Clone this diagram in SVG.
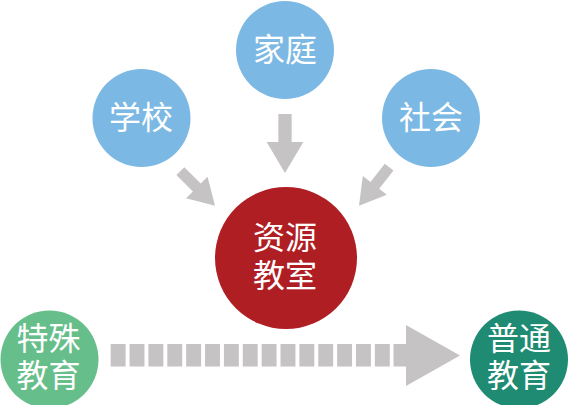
<svg xmlns="http://www.w3.org/2000/svg" width="569" height="405" viewBox="0 0 569 405">
<style>
.lbl{font-family:"Noto Sans CJK SC","Noto Sans",sans-serif;font-size:32px;fill:#ffffff;text-anchor:middle}
.blue{fill:#7bb8e3}
.arr{fill:#c5c3c4}
</style>
<defs>
<path id="ar" d="M -6.65,-59 L 6.65,-59 L 6.65,-31 L 18.35,-31 L 0,0 L -18.35,-31 L -6.65,-31 Z"/>
</defs>
<g id="connectors" class="arr">
<use href="#ar" transform="translate(285,173)"/>
<use href="#ar" transform="translate(215,205.7) rotate(-45) scale(0.83)"/>
<use href="#ar" transform="translate(359,205.7) rotate(38) scale(0.83)"/>
<line x1="110.7" y1="355.3" x2="393.7" y2="355.3" stroke="#c5c3c4" stroke-width="22.5" stroke-dasharray="14.9 3.97"/>
<polygon points="393.5,344 406,344 406,325 460,355.5 406,386 406,366.6 393.5,366.6"/>
</g>
<g id="jiating">
<circle class="blue" cx="285" cy="50" r="49"/>
<text class="lbl" x="285" y="61">家庭</text>
</g>
<g id="xuexiao">
<circle class="blue" cx="141.5" cy="118" r="49"/>
<text class="lbl" x="141" y="128.5">学校</text>
</g>
<g id="shehui">
<circle class="blue" cx="431" cy="118" r="49"/>
<text class="lbl" x="431" y="128.5">社会</text>
</g>
<g id="ziyuanjiaoshi">
<circle cx="286" cy="258" r="71" fill="#af1e23"/>
<text class="lbl"><tspan x="285" y="249">资源</tspan><tspan x="285" y="287">教室</tspan></text>
</g>
<g id="teshujiaoyu">
<circle cx="49.5" cy="359.5" r="49" fill="#66be8a"/>
<text class="lbl"><tspan x="48.5" y="349.5">特殊</tspan><tspan x="48.5" y="387">教育</tspan></text>
</g>
<g id="putongjiaoyu">
<circle cx="519" cy="359.5" r="49" fill="#1f8b73"/>
<text class="lbl"><tspan x="519" y="349.5">普通</tspan><tspan x="519" y="387">教育</tspan></text>
</g>
</svg>
